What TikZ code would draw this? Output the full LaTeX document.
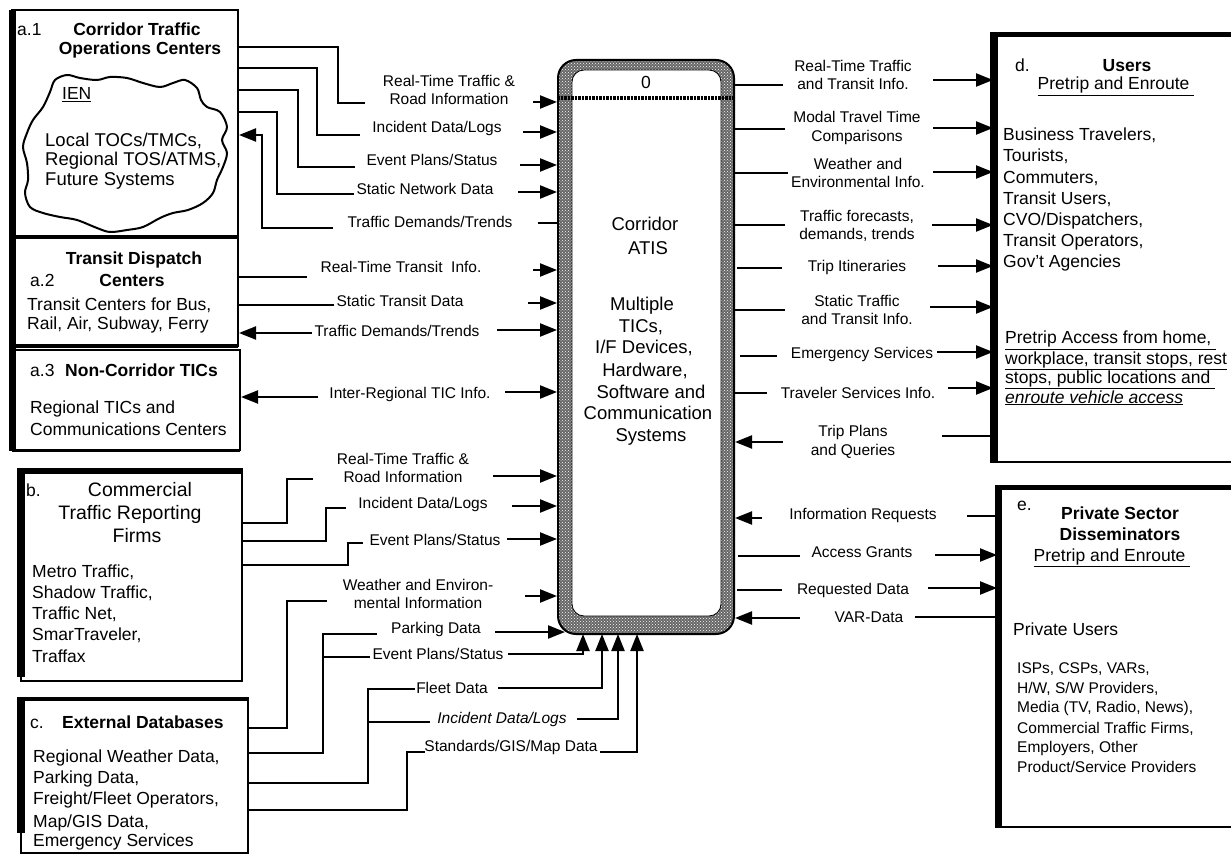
\documentclass[tikz,border=0pt]{standalone}
\usepackage{fontspec}
\setmainfont{Liberation Sans}
\usetikzlibrary{arrows.meta,patterns}
\newcommand\lfnt{\fontsize{15.5}{18.5}\selectfont}
\newcommand\bdfnt{\fontsize{17.5}{21}\selectfont}
\newcommand\clfnt{\fontsize{18.5}{20}\selectfont}
\newcommand\smfnt{\fontsize{15.5}{19}\selectfont}
\newcommand\bgfnt{\fontsize{19.5}{23}\selectfont}
\newcommand\ctfnt{\fontsize{18.5}{21.7}\selectfont}
\tikzset{
  conn/.style={line width=2.2pt},
  arr/.style={line width=2.2pt,-{Triangle[length=17pt,width=13pt]}},
  boxthin/.style={draw,line width=2pt,inner sep=0pt},
  lbl/.style={font=\lfnt,inner sep=0pt,anchor=base},
  lbltwo/.style={font=\lfnt,inner sep=0pt,align=center},
  txt/.style={font=\bdfnt,inner sep=0pt,anchor=base west},
  ttl/.style={font=\bdfnt\bfseries,inner sep=0pt,anchor=base},
  ctr/.style={font=\ctfnt,inner sep=0pt,anchor=base},
  sml/.style={font=\smfnt,inner sep=0pt,anchor=base west},
}
\begin{document}
\begin{tikzpicture}[x=1pt,y=-1pt]
\useasboundingbox (0,0) rectangle (1231,866);
\clip (0,0) rectangle (1231,866);
\fill[white] (0,0) rectangle (1231,866);

% ---------- boxes ----------
\node[boxthin,minimum width=226pt,minimum height=227pt] (a1) at (125,123.5) {};
\node[boxthin,minimum width=226pt,minimum height=109pt] (a2) at (125,291.5) {};
\node[boxthin,minimum width=228pt,minimum height=100pt] (a3) at (126,400) {};
\node[boxthin,minimum width=221pt,minimum height=211pt] (b) at (131.5,575.5) {};
\node[boxthin,minimum width=227pt,minimum height=155pt] (c) at (134.5,775.5) {};
\node[boxthin,minimum width=246pt,minimum height=428pt] (d) at (1117,248) {};
\node[boxthin,minimum width=242pt,minimum height=340pt] (e) at (1119,657) {};

\fill (9,10) rectangle (16,451);
\draw[line width=4pt] (12,237) -- (238,237);
\draw[line width=4pt] (12,346) -- (238,346);
\draw[line width=3pt] (12,450) -- (240,450);
\fill (17,468) rectangle (25,677);
\fill (17,468) rectangle (243,474);
\fill (17,697) rectangle (25,833);
\draw[line width=3.5pt] (17,699) -- (248,699);
\fill (990,32) rectangle (998,463);
\fill (990,32) rectangle (1231,37);
\fill (995,485) rectangle (1002,828);
\fill (995,485) rectangle (1231,490);

% central box
\node[draw,line width=2pt,rounded corners=18pt,minimum width=176pt,minimum height=574pt,
      preaction={fill=black!60},pattern=crosshatch dots,pattern color=white] (atis) at (646,347) {};
\node[draw,line width=0.8pt,fill=white,rounded corners=12pt,minimum width=149pt,minimum height=546pt] (atisin) at (646.5,343) {};
\draw[line width=3.5pt,dash pattern=on 2.5pt off 1pt] (atis.west |- 0,98) -- (atis.east |- 0,98);

% cloud
\draw[line width=2pt] plot[smooth cycle,tension=0.55] coordinates {
(50,92) (55,80) (67,75) (80,78) (97,80) (110,77) (127,78) (143,83) (160,87) (173,83)
(185,80) (197,88) (201,100) (207,107) (220,112) (227,127) (222,140) (227,153) (223,167)
(217,180) (213,193) (203,203) (188,210) (173,213) (160,218) (143,227) (127,230) (110,232)
(97,228) (77,220) (60,217) (43,213) (30,207) (25,193) (28,180) (27,163) (23,147) (27,133)
(33,120) (43,107)};

% ---------- box texts ----------
\node[txt] (a1n) at (17,36) {a.1};
\node[ttl] (a1t1) at (137,36) {Corridor Traffic};
\node[ttl] (a1t2) at (140,55) {Operations Centers};
\node[txt] (ien) at (62,100) {\underline{IEN}};
\node[txt,font=\clfnt] (cl1) at (45,147) {Local TOCs/TMCs,};
\node[txt,font=\clfnt] (cl2) at (45,166) {Regional TOS/ATMS,};
\node[txt,font=\clfnt] (cl3) at (45,186) {Future Systems};

\node[ttl] (a2t1) at (134,265) {Transit Dispatch};
\node[txt] (a2n) at (30,287) {a.2};
\node[ttl] (a2t2) at (132,287) {Centers};
\node[txt] (a2l1) at (27,311) {Transit Centers for Bus,};
\node[txt] (a2l2) at (27,330) {Rail, Air, Subway, Ferry};

\node[txt] (a3n) at (30,377) {a.3};
\node[txt,font=\bdfnt\bfseries] (a3t) at (65,377) {Non-Corridor TICs};
\node[txt] (a3l1) at (30,413) {Regional TICs and};
\node[txt] (a3l2) at (30,435) {Communications Centers};

\node[txt] (bn) at (26,496) {b.};
\node[font=\bgfnt,inner sep=0pt,anchor=base] (bt1) at (140,496) {Commercial};
\node[font=\bgfnt,inner sep=0pt,anchor=base] (bt2) at (130,519) {Traffic Reporting};
\node[font=\bgfnt,inner sep=0pt,anchor=base] (bt3) at (137,542) {Firms};
\node[txt] (bl1) at (32,577) {Metro Traffic,};
\node[txt] (bl2) at (32,598) {Shadow Traffic,};
\node[txt] (bl3) at (32,619) {Traffic Net,};
\node[txt] (bl4) at (32,640) {SmarTraveler,};
\node[txt] (bl5) at (32,662) {Traffax};

\node[txt] (cn) at (30,728) {c.};
\node[txt,font=\bdfnt\bfseries] (ct) at (62,728) {External Databases};
\node[txt] (cl1b) at (33,762) {Regional Weather Data,};
\node[txt] (cl2b) at (33,783) {Parking Data,};
\node[txt] (cl3b) at (33,804) {Freight/Fleet Operators,};
\node[txt] (cl4b) at (33,827) {Map/GIS Data,};
\node[txt] (cl5b) at (33,846) {Emergency Services};

\node[txt] (dn) at (1015,72) {d.};
\node[ttl] (dt) at (1127,72) {Users};
\node[font=\bdfnt,inner sep=0pt,anchor=base] (dt2) at (1116,90) {\underline{Pretrip and Enroute\ }};
\node[txt] (dl1) at (1003,141) {Business Travelers,};
\node[txt] (dl2) at (1003,162) {Tourists,};
\node[txt] (dl3) at (1003,184) {Commuters,};
\node[txt] (dl4) at (1003,205) {Transit Users,};
\node[txt] (dl5) at (1003,226) {CVO/Dispatchers,};
\node[txt] (dl6) at (1003,247) {Transit Operators,};
\node[txt] (dl7) at (1003,268) {Gov't Agencies};
\node[txt] (du1) at (1005,344) {\underline{Pretrip Access from home,\ }};
\node[txt] (du2) at (1005,364) {\underline{workplace, transit stops, rest}};
\node[txt] (du3) at (1005,383) {\underline{stops, public locations and\ }};
\node[txt] (du4) at (1005,403) {\underline{\itshape enroute vehicle access}};

\node[txt] (en) at (1017,510) {e.};
\node[ttl] (et1) at (1120,519) {Private Sector};
\node[ttl] (et2) at (1120,540) {Disseminators};
\node[font=\bdfnt,inner sep=0pt,anchor=base] (et3) at (1112,561) {\underline{Pretrip and Enroute\ }};
\node[txt] (eu) at (1013,635) {Private Users};
\node[sml] (el1) at (1017,673) {ISPs, CSPs, VARs,};
\node[sml] (el2) at (1017,693) {H/W, S/W Providers,};
\node[sml] (el3) at (1017,712) {Media (TV, Radio, News),};
\node[sml] (el4) at (1017,733) {Commercial Traffic Firms,};
\node[sml] (el5) at (1017,752) {Employers, Other};
\node[sml] (el6) at (1017,772) {Product/Service Providers};

% central box texts
\node[font=\bdfnt,inner sep=0pt] (zero) at (646,82) {0};
\node[ctr] (m1) at (645,231) {Corridor};
\node[ctr] (m2) at (648,255) {ATIS};
\node[ctr] (m3) at (642,311) {Multiple};
\node[ctr] (m4) at (641,333) {TICs,};
\node[ctr] (m5) at (644,354) {I/F Devices,};
\node[ctr] (m6) at (645,376) {Hardware,};
\node[ctr] (m7) at (651,398) {Software and};
\node[ctr] (m8) at (648,419) {Communication};
\node[ctr] (m9) at (651,441) {Systems};

% ---------- labels ----------
\node[lbltwo] (L1) at (449,90) {Real-Time Traffic \&\\Road Information};
\node[lbl] (L2) at (437,133) {Incident Data/Logs};
\node[lbl] (L3) at (432,166) {Event Plans/Status};
\node[lbl] (L4) at (425,195) {Static Network Data};
\node[lbl] (L5) at (430,228) {Traffic Demands/Trends};
\node[lbl] (L6) at (401,273) {Real-Time Transit\ \ Info.};
\node[lbl] (L7) at (400,307) {Static Transit Data};
\node[lbl] (L8) at (397,337) {Traffic Demands/Trends};
\node[lbl] (L9) at (410,398) {Inter-Regional TIC Info.};
\node[lbltwo] (L10) at (403,468) {Real-Time Traffic \&\\Road Information};
\node[lbl] (L11) at (423,508) {Incident Data/Logs};
\node[lbl] (L12) at (435,545) {Event Plans/Status};
\node[lbltwo] (L13) at (418,594) {Weather and Environ-\\mental Information};
\node[lbl] (L14) at (436,633) {Parking Data};
\node[lbl] (L15) at (438,659) {Event Plans/Status};
\node[lbl] (L16) at (452,693) {Fleet Data};
\node[lbl,font=\lfnt\itshape] (L17) at (502,723) {Incident Data/Logs};
\node[lbl] (L18) at (511,751) {Standards/GIS/Map Data};

\node[lbltwo] (R1) at (853,75) {Real-Time Traffic\\and Transit Info.};
\node[lbltwo] (R2) at (857,128) {Modal Travel Time\\Comparisons};
\node[lbltwo] (R3) at (858,173) {Weather and\\Environmental Info.};
\node[lbltwo] (R4) at (857,226) {Traffic forecasts,\\demands, trends};
\node[lbl] (R5) at (857,272) {Trip Itineraries};
\node[lbltwo] (R6) at (857,310) {Static Traffic\\and Transit Info.};
\node[lbl] (R7) at (862,359) {Emergency Services};
\node[lbl] (R8) at (858,398) {Traveler Services Info.};
\node[lbltwo] (R9) at (853,442) {Trip Plans\\and Queries};
\node[lbl] (R10) at (863,519) {Information Requests};
\node[lbl] (R11) at (862,557) {Access Grants};
\node[lbl] (R12) at (853,594) {Requested Data};
\node[lbl] (R13) at (869,622) {VAR-Data};

% ---------- connectors: a.1 ----------
\draw[conn] (a1.east |- 0,47) -| (338,103) -- (365,103);
\draw[arr] (533,102) -- (atis.west |- 0,102);
\draw[conn] (a1.east |- 0,68) -| (317,135) -- (360,135);
\draw[arr] (523,132) -- (atis.west |- 0,132);
\draw[conn] (a1.east |- 0,90) -| (298,167) -- (355,167);
\draw[arr] (520,165) -- (atis.west |- 0,165);
\draw[conn] (a1.east |- 0,112) -| (277,194) -- (354,194);
\draw[arr] (518,192) -- (atis.west |- 0,192);
\draw[arr] (333,228) -| (262,135) -- (a1.east |- 0,135);
\draw[conn] (538,223) -- (atis.west |- 0,223);

% a.2 / a.3
\draw[conn] (a2.east |- 0,277) -- (307,277);
\draw[arr] (533,270) -- (atis.west |- 0,270);
\draw[conn] (a2.east |- 0,305) -- (334,305);
\draw[arr] (528,303) -- (atis.west |- 0,303);
\draw[arr] (312,333) -- (a2.east |- 0,333);
\draw[arr] (497,330) -- (atis.west |- 0,330);
\draw[arr] (318,397) -- (a3.east |- 0,397);
\draw[arr] (505,392) -- (atis.west |- 0,392);

% b
\draw[conn] (b.east |- 0,523) -| (287,479) -- (313,479);
\draw[arr] (493,476) -- (atis.west |- 0,476);
\draw[conn] (b.east |- 0,541) -| (326,508) -- (346,508);
\draw[arr] (512,506) -- (atis.west |- 0,506);
\draw[conn] (b.east |- 0,565) -| (348,543) -- (363,543);
\draw[arr] (507,539) -- (atis.west |- 0,539);

% c
\draw[conn] (c.east |- 0,728) -| (287,601) -- (327,601);
\draw[arr] (525,596) -- (atis.west |- 0,596);
\draw[conn] (c.east |- 0,753) -| (323,634) -- (377,634);
\draw[conn] (323,657) -- (370,657);
\draw[arr] (495,632) -- (565,632);
\draw[arr] (508,654) -| (583,634);
\draw[conn] (c.east |- 0,783) -| (368,689) -- (415,689);
\draw[conn] (368,722) -- (430,722);
\draw[arr] (498,688) -| (602,634);
\draw[arr] (577,719) -| (618,634);
\draw[conn] (c.east |- 0,810) -| (407,752) -- (425,752);
\draw[arr] (600,752) -| (637,634);

% right side
\draw[conn] (atis.east |- 0,85) -- (783,85);
\draw[arr] (933,80) -- (d.west |- 0,80);
\draw[conn] (atis.east |- 0,129) -- (785,129);
\draw[arr] (933,128) -- (d.west |- 0,128);
\draw[conn] (atis.east |- 0,173) -- (788,173);
\draw[arr] (933,172) -- (d.west |- 0,172);
\draw[conn] (atis.east |- 0,225) -- (785,225);
\draw[arr] (932,225) -- (d.west |- 0,225);
\draw[conn] (737,268) -- (782,268);
\draw[arr] (938,266) -- (d.west |- 0,266);
\draw[conn] (atis.east |- 0,310) -- (785,310);
\draw[arr] (930,307) -- (d.west |- 0,307);
\draw[conn] (740,356) -- (777,356);
\draw[arr] (937,352) -- (d.west |- 0,352);
\draw[conn] (atis.east |- 0,393) -- (767,393);
\draw[arr] (948,388) -- (d.west |- 0,388);
\draw[conn] (942,436) -- (d.west |- 0,436);
\draw[arr] (783,442) -- (atis.east |- 0,442);
\draw[conn] (967,516) -- (e.west |- 0,516);
\draw[arr] (762,518) -- (atis.east |- 0,518);
\draw[conn] (738,556) -- (800,556);
\draw[arr] (935,555) -- (e.west |- 0,555);
\draw[conn] (737,590) -- (782,590);
\draw[arr] (928,588) -- (e.west |- 0,588);
\draw[conn] (915,617) -- (e.west |- 0,617);
\draw[arr] (800,618) -- (atis.east |- 0,618);
\end{tikzpicture}
\end{document}
